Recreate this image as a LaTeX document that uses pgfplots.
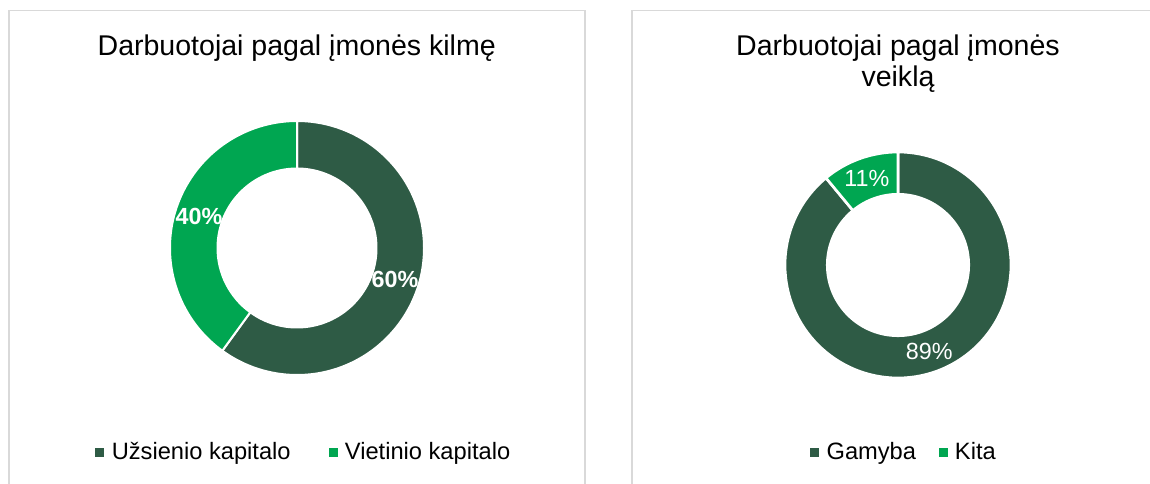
\documentclass[border=0pt]{standalone}
\usepackage{fontspec}
\setmainfont{Liberation Sans}
\usepackage{pgfplots}
\usepackage{pgfplotstable}
\pgfplotsset{compat=1.18}
\definecolor{dkgreen}{RGB}{46,91,69}
\definecolor{ltgreen}{RGB}{0,166,81}
\definecolor{panel}{RGB}{217,217,217}
\newcommand\titlefont{\fontsize{21.4pt}{25pt}\selectfont}
\newcommand\legfont{\fontsize{17.75pt}{20pt}\selectfont}
\newcommand\labfont{\fontsize{17.5pt}{20pt}\selectfont}

\pgfplotstableread{
share value
Uzsienio 60
Vietinio 40
}\kilme
\pgfplotstableread{
share value
Gamyba 89
Kita 11
}\veikla

\begin{document}
\pgfplotstablegetelem{0}{value}\of\kilme \edef\kA{\pgfplotsretval}%
\pgfplotstablegetelem{1}{value}\of\kilme \edef\kB{\pgfplotsretval}%
\pgfplotstablegetelem{0}{value}\of\veikla \edef\vA{\pgfplotsretval}%
\pgfplotstablegetelem{1}{value}\of\veikla \edef\vB{\pgfplotsretval}%
\pgfmathsetmacro\kAe{90-3.6*\kA}%
\pgfmathsetmacro\kBe{\kAe-3.6*\kB}%
\pgfmathsetmacro\kAm{90-1.8*\kA}%
\pgfmathsetmacro\kBm{\kAe-1.8*\kB}%
\pgfmathsetmacro\vAe{90-3.6*\vA}%
\pgfmathsetmacro\vBe{\vAe-3.6*\vB}%
\pgfmathsetmacro\vAm{90-1.8*\vA}%
\pgfmathsetmacro\vBm{\vAe-1.8*\vB}%
\begin{tikzpicture}[x=0.75pt,y=0.75pt]
\useasboundingbox (0,0) rectangle (1150,483);
\draw[panel, line width=1.3pt] (9,-5) -- (9,472.5) -- (585,472.5) -- (585,-5);
\draw[panel, line width=1.3pt] (632.3,-5) -- (632.3,472.5) -- (1156,472.5);
\node[anchor=base, inner sep=0pt, font=\titlefont] at (296.7,427) {Darbuotojai pagal įmonės kilmę};
\node[anchor=base, inner sep=0pt, font=\titlefont] at (898,427) {Darbuotojai pagal įmonės};
\node[anchor=base, inner sep=0pt, font=\titlefont] at (898,396.3) {veiklą};

\begin{axis}[at={(222.75pt,176.25pt)}, anchor=center,
  x=0.75pt, y=0.75pt, xmin=-140, xmax=140, ymin=-140, ymax=140,
  hide axis, clip=false,
  legend columns=2,
  legend style={draw=none, fill=none, at={(0.521,-0.2286)}, anchor=center,
    font=\legfont, nodes={inner sep=0pt},
    /tikz/every odd column/.append style={column sep=5.8pt},
    /tikz/every even column/.append style={column sep=28.5pt}},
]
\fill[dkgreen, draw=white, line width=1.5pt]
  (axis cs:{127*cos(90)},{127*sin(90)}) arc[start angle=90, end angle=\kAe, radius=127]
  -- (axis cs:{79.5*cos(\kAe)},{79.5*sin(\kAe)}) arc[start angle=\kAe, end angle=90, radius=79.5] -- cycle;
\fill[ltgreen, draw=white, line width=1.5pt]
  (axis cs:{127*cos(\kAe)},{127*sin(\kAe)}) arc[start angle=\kAe, end angle=\kBe, radius=127]
  -- (axis cs:{79.5*cos(\kBe)},{79.5*sin(\kBe)}) arc[start angle=\kBe, end angle=\kAe, radius=79.5] -- cycle;
\node[white, font=\labfont\bfseries] at (axis cs:{103*cos(\kAm)},{103*sin(\kAm)}) {\kA\%};
\node[white, font=\labfont\bfseries] at (axis cs:{103*cos(\kBm)},{103*sin(\kBm)}) {\kB\%};
\addlegendimage{legend image code/.code={\fill[dkgreen] (0pt,-3pt) rectangle (6pt,3pt);}}
\addlegendentry{Užsienio kapitalo}
\addlegendimage{legend image code/.code={\fill[ltgreen] (0pt,-3pt) rectangle (6pt,3pt);}}
\addlegendentry{Vietinio kapitalo}
\end{axis}

\begin{axis}[at={(673.5pt,163.5pt)}, anchor=center,
  x=0.75pt, y=0.75pt, xmin=-140, xmax=140, ymin=-140, ymax=140,
  hide axis, clip=false,
  legend columns=2,
  legend style={draw=none, fill=none, at={(0.518,-0.168)}, anchor=center,
    font=\legfont, nodes={inner sep=0pt},
    /tikz/every odd column/.append style={column sep=5.8pt},
    /tikz/every even column/.append style={column sep=17pt}},
]
\fill[dkgreen, draw=white, line width=2pt]
  (axis cs:{113*cos(90)},{113*sin(90)}) arc[start angle=90, end angle=\vAe, radius=113]
  -- (axis cs:{70.7*cos(\vAe)},{70.7*sin(\vAe)}) arc[start angle=\vAe, end angle=90, radius=70.7] -- cycle;
\fill[ltgreen, draw=white, line width=2pt]
  (axis cs:{113*cos(\vAe)},{113*sin(\vAe)}) arc[start angle=\vAe, end angle=\vBe, radius=113]
  -- (axis cs:{70.7*cos(\vBe)},{70.7*sin(\vBe)}) arc[start angle=\vBe, end angle=\vAe, radius=70.7] -- cycle;
\node[white, font=\labfont] at (axis cs:{92*cos(\vAm)},{92*sin(\vAm)}) {\vA\%};
\node[white, font=\labfont] at (axis cs:{92*cos(\vBm)},{92*sin(\vBm)}) {\vB\%};
\addlegendimage{legend image code/.code={\fill[dkgreen] (0pt,-3pt) rectangle (6pt,3pt);}}
\addlegendentry{Gamyba}
\addlegendimage{legend image code/.code={\fill[ltgreen] (0pt,-3pt) rectangle (6pt,3pt);}}
\addlegendentry{Kita}
\end{axis}
\end{tikzpicture}
\end{document}
